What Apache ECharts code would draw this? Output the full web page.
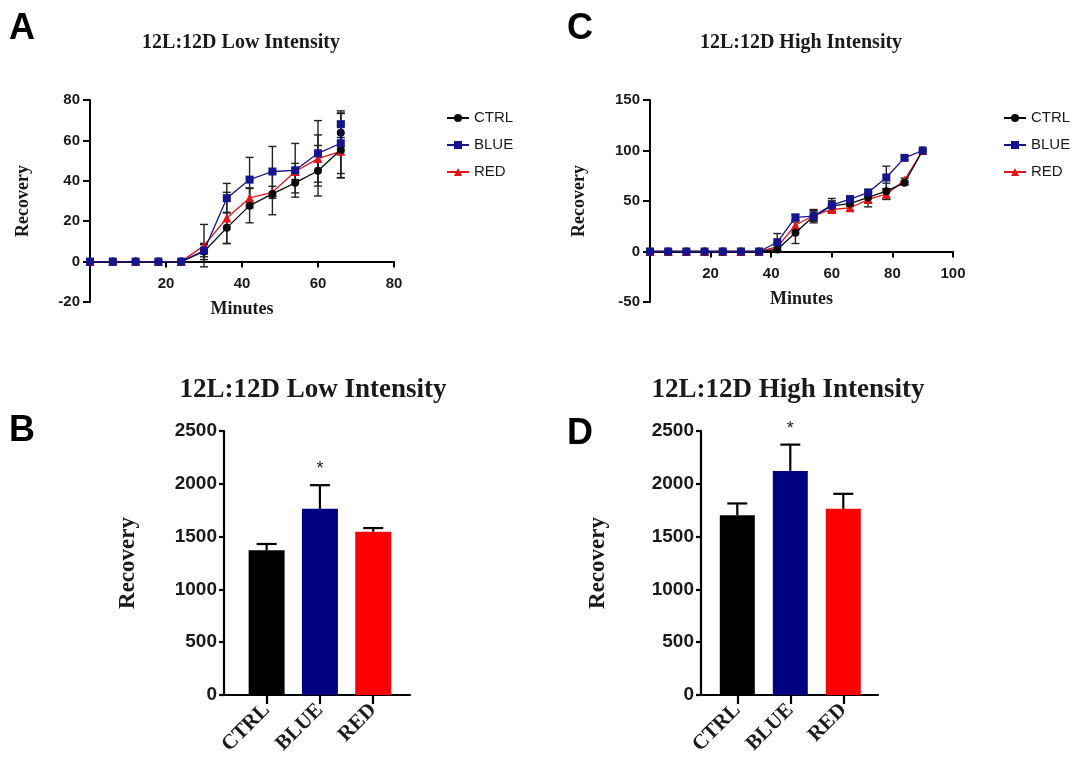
<!DOCTYPE html>
<html>
<head>
<meta charset="utf-8">
<script src="https://cdn.jsdelivr.net/npm/echarts@6/dist/echarts.min.js"></script>
<style>
html,body{margin:0;padding:0;background:#fff;}
#chart{width:1080px;height:765px;}
</style>
</head>
<body>
<div id="chart"></div>
<script>
// ---------- DATA ----------
const seriesNames = ['CTRL', 'BLUE', 'RED'];

// Panel A: 12L:12D Low Intensity (time course)
const minutesA = [0, 6, 12, 18, 24, 30, 36, 42, 48, 54, 60, 66, 66];
const ctrlA    = [0, 0, 0, 0, 0, 5.0, 16.7, 27.7, 33.5, 39.0, 45.0, 55.4, 63.8];
const blueA    = [0, 0, 0, 0, 0, 5.4, 31.4, 40.6, 44.6, 45.2, 53.6, 58.6, 68.0];
const redA     = [0, 0, 0, 0, 0, 7.9, 21.6, 31.5, 34.3, 44.6, 51.0, 54.6];
const ctrlErrA = [0, 0, 0, 0, 0, 4.0, 7.7, 8.5, 10.3, 5.0, 12.5, 14.0, 9.5];
const blueErrA = [0, 0, 0, 0, 0, 3.0, 7.3, 11.0, 12.4, 13.3, 16.2, 15.0, 6.6];
const redErrA  = [0, 0, 0, 0, 0, 10.5, 12.7, 5.0, 3.0, 4.0, 11.7, 13.0];

// Panel C: 12L:12D High Intensity (time course)
const minutesC = [0, 6, 12, 18, 24, 30, 36, 42, 48, 54, 60, 66, 72, 78, 84, 90];
const ctrlC    = [0, 0, 0, 0, 0, 0, 0, 2.0, 18.5, 35.0, 45.2, 47.5, 53.5, 59.7, 68.0, 100];
const blueC    = [0, 0, 0, 0, 0, 0, 0, 9.2, 33.7, 35.0, 45.9, 51.8, 58.4, 73.3, 92.7, 100];
const redC     = [0, 0, 0, 0, 0, 0, 0, 4.6, 26.0, 35.6, 41.6, 43.2, 51.5, 56.8, 70.6, 100];
const ctrlErrC = [0, 0, 0, 0, 0, 0, 0, 2.0, 10.6, 6.6, 5.0, 3.0, 5.0, 8.0, 2.0, 0];
const blueErrC = [0, 0, 0, 0, 0, 0, 0, 8.6, 3.0, 5.0, 6.6, 3.0, 3.0, 11.2, 2.0, 0];
const redErrC  = [0, 0, 0, 0, 0, 0, 0, 4.0, 5.0, 5.0, 3.0, 3.0, 7.3, 5.3, 2.0, 0];

// Panels B and D: totals
const barCategories = ['CTRL', 'BLUE', 'RED'];
const lowMeans  = [1370, 1763, 1546];
const lowErr    = [60, 224, 35];
const lowSig    = ['', '*', ''];
const highMeans = [1703, 2122, 1763];
const highErr   = [111, 249, 142];
const highSig   = ['', '*', ''];

// Tick labels
const lineTicksA = { yMin: -20, yMax: 80, yStep: 20, xMin: 0, xMax: 80, xStep: 20 };
const lineTicksC = { yMin: -50, yMax: 150, yStep: 50, xMin: 0, xMax: 100, xStep: 20 };
const barTicks   = { yMin: 0, yMax: 2500, yStep: 500 };

// ---------- STYLE ----------
const colors = { CTRL: '#0a0a0a', BLUE: '#14148c', RED: '#e3141a' };
const barColors = ['#000000', '#000080', '#ff0000'];
const symbols = { CTRL: 'circle', BLUE: 'rect', RED: 'triangle' };
const SANS = 'Liberation Sans';
const SERIF = 'Liberation Serif';
const INK = '#1a1a1a';
const GRID_H = 202;

function pairs(xs, ys) { return ys.map((v, i) => [xs[i], v]); }
function triples(xs, ys, es) { return ys.map((v, i) => [xs[i], v, es[i]]); }

function errRender(params, api) {
  const x = api.value(0), y = api.value(1), e = api.value(2);
  if (!e) return null;
  const t = api.coord([x, y + e]);
  const b = api.coord([x, y - e]);
  const hw = 4;
  const st = { stroke: '#222', lineWidth: 1.4 };
  return {
    type: 'group',
    children: [
      { type: 'line', shape: { x1: t[0], y1: t[1], x2: b[0], y2: b[1] }, style: st },
      { type: 'line', shape: { x1: t[0] - hw, y1: t[1], x2: t[0] + hw, y2: t[1] }, style: st },
      { type: 'line', shape: { x1: b[0] - hw, y1: b[1], x2: b[0] + hw, y2: b[1] }, style: st }
    ]
  };
}

function barErrRender(sig) {
  return function (params, api) {
    const x = api.value(0), y = api.value(1), e = api.value(2);
    const t = api.coord([x, y + e]);
    const b = api.coord([x, y]);
    const hw = 10;
    const st = { stroke: '#000', lineWidth: 2.2 };
    const children = [
      { type: 'line', shape: { x1: t[0], y1: t[1], x2: b[0], y2: b[1] }, style: st },
      { type: 'line', shape: { x1: t[0] - hw, y1: t[1], x2: t[0] + hw, y2: t[1] }, style: st }
    ];
    const s = sig[params.dataIndex];
    if (s) {
      children.push({ type: 'text', style: { text: s, x: t[0], y: t[1] - 7, textAlign: 'center', textVerticalAlign: 'bottom', font: '18px ' + SANS, fill: '#222' } });
    }
    return { type: 'group', children: children };
  };
}

// x axis drawn at the y=0 level of the value axis (offset from grid bottom)
function lineXAxis(gridIndex, tk) {
  const zeroOffset = -GRID_H * (0 - tk.yMin) / (tk.yMax - tk.yMin);
  return {
    type: 'value', gridIndex: gridIndex, min: tk.xMin, max: tk.xMax, interval: tk.xStep,
    offset: zeroOffset,
    name: 'Minutes', nameLocation: 'middle', nameGap: 39,
    nameTextStyle: { fontFamily: SERIF, fontWeight: 'bold', fontSize: 18, color: INK },
    axisLine: { onZero: false, lineStyle: { color: '#000', width: 2 } },
    axisTick: { length: 6, lineStyle: { color: '#000', width: 2 } },
    axisLabel: { showMinLabel: false, margin: 15, fontFamily: SANS, fontWeight: 'bold', fontSize: 15, color: INK },
    splitLine: { show: false }
  };
}
function lineYAxis(gridIndex, tk, gap) {
  return {
    type: 'value', gridIndex: gridIndex, min: tk.yMin, max: tk.yMax, interval: tk.yStep,
    name: 'Recovery', nameLocation: 'middle', nameGap: gap,
    nameTextStyle: { fontFamily: SERIF, fontWeight: 'bold', fontSize: 18, color: INK },
    axisLine: { show: true, onZero: false, lineStyle: { color: '#000', width: 2 } },
    axisTick: { show: true, length: 7, lineStyle: { color: '#000', width: 2 } },
    axisLabel: { margin: 10, fontFamily: SANS, fontWeight: 'bold', fontSize: 15, color: INK },
    splitLine: { show: false }
  };
}
function barXAxis(gridIndex, mn, mx) {
  return {
    type: 'value', gridIndex: gridIndex, min: mn, max: mx,
    axisLine: { onZero: false, lineStyle: { color: '#000', width: 2.2 } },
    axisTick: { length: 9, customValues: [0, 1, 2], lineStyle: { color: '#000', width: 2.2 } },
    axisLabel: {
      customValues: [0, 1, 2], rotate: 45, margin: 12,
      formatter: v => barCategories[Math.round(v)] || '',
      fontFamily: SERIF, fontWeight: 'bold', fontSize: 21, color: INK
    },
    splitLine: { show: false }
  };
}
function barYAxis(gridIndex, gap) {
  return {
    type: 'value', gridIndex: gridIndex, min: barTicks.yMin, max: barTicks.yMax, interval: barTicks.yStep,
    name: 'Recovery', nameLocation: 'middle', nameGap: gap,
    nameTextStyle: { fontFamily: SERIF, fontWeight: 'bold', fontSize: 23, color: INK },
    axisLine: { show: true, onZero: false, lineStyle: { color: '#000', width: 2.2 } },
    axisTick: { show: true, length: 5, lineStyle: { color: '#000', width: 2.2 } },
    axisLabel: { margin: 7, formatter: v => String(v), fontFamily: SANS, fontWeight: 'bold', fontSize: 19, color: INK },
    splitLine: { show: false }
  };
}

function lineSeries(name, xi, data, z) {
  return {
    type: 'line', name: name, xAxisIndex: xi, yAxisIndex: xi, data: data,
    symbol: symbols[name], symbolSize: name === 'RED' ? 9 : 8, z: z,
    lineStyle: { color: colors[name], width: 1.3 },
    itemStyle: { color: colors[name] }
  };
}
function errSeries(name, xi, data) {
  return {
    type: 'custom', name: 'err-' + name + xi, xAxisIndex: xi, yAxisIndex: xi, data: data,
    renderItem: errRender, z: 3, encode: { x: 0, y: 1 }, silent: true
  };
}

const legendCommon = {
  orient: 'vertical', itemWidth: 22, itemHeight: 10, itemGap: 11,
  data: seriesNames,
  textStyle: { fontFamily: SANS, fontSize: 15, color: INK, lineHeight: 16 }
};

const option = {
  animation: false,
  backgroundColor: '#fff',
  grid: [
    { left: 90, top: 100, width: 304, height: GRID_H },
    { left: 650, top: 100, width: 303, height: GRID_H },
    { left: 224, top: 431, width: 186, height: 264 },
    { left: 701, top: 431, width: 177, height: 264 }
  ],
  xAxis: [
    lineXAxis(0, lineTicksA),
    lineXAxis(1, lineTicksC),
    barXAxis(2, -0.80, 2.69),
    barXAxis(3, -0.685, 2.655)
  ],
  yAxis: [
    lineYAxis(0, lineTicksA, 58),
    lineYAxis(1, lineTicksC, 62),
    barYAxis(2, 84),
    barYAxis(3, 91)
  ],
  legend: [
    Object.assign({}, legendCommon, { left: 441, top: 105 }),
    Object.assign({}, legendCommon, { left: 998, top: 105 })
  ],
  series: [
    errSeries('CTRL', 0, triples(minutesA, ctrlA, ctrlErrA)),
    errSeries('BLUE', 0, triples(minutesA, blueA, blueErrA)),
    errSeries('RED', 0, triples(minutesA, redA, redErrA)),
    lineSeries('CTRL', 0, pairs(minutesA, ctrlA), 6),
    lineSeries('BLUE', 0, pairs(minutesA, blueA), 7),
    lineSeries('RED', 0, pairs(minutesA, redA), 5),

    errSeries('CTRL', 1, triples(minutesC, ctrlC, ctrlErrC)),
    errSeries('BLUE', 1, triples(minutesC, blueC, blueErrC)),
    errSeries('RED', 1, triples(minutesC, redC, redErrC)),
    lineSeries('CTRL', 1, pairs(minutesC, ctrlC), 6),
    lineSeries('BLUE', 1, pairs(minutesC, blueC), 7),
    lineSeries('RED', 1, pairs(minutesC, redC), 5),

    {
      type: 'bar', name: 'low', xAxisIndex: 2, yAxisIndex: 2, barWidth: 36,
      data: lowMeans.map((v, i) => ({ value: [i, v], itemStyle: { color: barColors[i] } }))
    },
    {
      type: 'custom', name: 'lowErr', xAxisIndex: 2, yAxisIndex: 2, z: 4,
      renderItem: barErrRender(lowSig), encode: { x: 0, y: 1 },
      data: lowMeans.map((v, i) => [i, v, lowErr[i]])
    },
    {
      type: 'bar', name: 'high', xAxisIndex: 3, yAxisIndex: 3, barWidth: 35,
      data: highMeans.map((v, i) => ({ value: [i, v], itemStyle: { color: barColors[i] } }))
    },
    {
      type: 'custom', name: 'highErr', xAxisIndex: 3, yAxisIndex: 3, z: 4,
      renderItem: barErrRender(highSig), encode: { x: 0, y: 1 },
      data: highMeans.map((v, i) => [i, v, highErr[i]])
    }
  ],
  graphic: [
    { type: 'text', style: { text: 'A', x: 22, y: 29, textAlign: 'center', textVerticalAlign: 'middle', font: 'bold 36px ' + SANS, fill: '#000' } },
    { type: 'text', style: { text: 'C', x: 580, y: 29, textAlign: 'center', textVerticalAlign: 'middle', font: 'bold 36px ' + SANS, fill: '#000' } },
    { type: 'text', style: { text: 'B', x: 22, y: 431, textAlign: 'center', textVerticalAlign: 'middle', font: 'bold 36px ' + SANS, fill: '#000' } },
    { type: 'text', style: { text: 'D', x: 580, y: 434, textAlign: 'center', textVerticalAlign: 'middle', font: 'bold 36px ' + SANS, fill: '#000' } },
    { type: 'text', style: { text: '12L:12D Low Intensity', x: 241, y: 43, textAlign: 'center', textVerticalAlign: 'middle', font: 'bold 20px ' + SERIF, fill: INK } },
    { type: 'text', style: { text: '12L:12D High Intensity', x: 801, y: 43, textAlign: 'center', textVerticalAlign: 'middle', font: 'bold 20px ' + SERIF, fill: INK } },
    { type: 'text', style: { text: '12L:12D Low Intensity', x: 313, y: 390, textAlign: 'center', textVerticalAlign: 'middle', font: 'bold 27px ' + SERIF, fill: INK } },
    { type: 'text', style: { text: '12L:12D High Intensity', x: 788, y: 390, textAlign: 'center', textVerticalAlign: 'middle', font: 'bold 27px ' + SERIF, fill: INK } }
  ]
};

const chart = echarts.init(document.getElementById('chart'), null, { renderer: 'canvas' });
chart.setOption(option);
</script>
</body>
</html>
